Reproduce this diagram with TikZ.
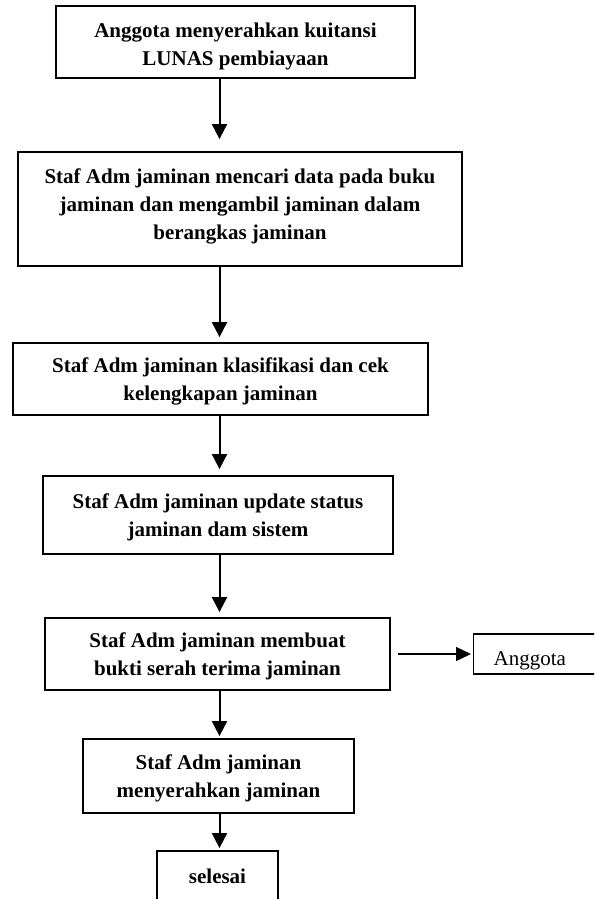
\documentclass[tikz,border=0pt]{standalone}
\usepackage{fontspec}
\setmainfont{Liberation Serif}
\usetikzlibrary{arrows.meta}
\tikzset{
  stepbox/.style={draw, line width=1.8pt, inner sep=0pt},
  steptext/.style={inner sep=0pt, align=center,
    font=\bfseries\fontsize{21}{28}\selectfont},
  endbox/.style={draw, line width=1.3pt, inner sep=0pt, inner xsep=20pt,
    text width=110pt, align=left, minimum width=150pt, minimum height=40pt,
    text height=27.4pt, text depth=4pt,
    font=\fontsize{21}{26.5}\selectfont},
  flow/.style={line width=2pt, -{Triangle[width=15pt,length=15pt]}},
  sideflow/.style={line width=1.3pt, -{Triangle[width=14pt,length=15pt]}},
}
\begin{document}
\begin{tikzpicture}[x=1pt,y=1pt]
\useasboundingbox (0,0) rectangle (594,-899);
\clip (0,0) rectangle (594,-899);
\coordinate (ax) at (219.5,0);

% process boxes
\node[stepbox, minimum width=359pt, minimum height=72pt] (b1) at (235.5,-42) {};
\node[stepbox, minimum width=444pt, minimum height=114pt] (b2) at (240,-209) {};
\node[stepbox, minimum width=415pt, minimum height=72pt] (b3) at (220.5,-379) {};
\node[stepbox, minimum width=350pt, minimum height=78pt] (b4) at (218,-515) {};
\node[stepbox, minimum width=345pt, minimum height=72pt] (b5) at (217.5,-654) {};
\node[stepbox, minimum width=271pt, minimum height=74pt] (b6) at (218.5,-776) {};
\node[stepbox, minimum width=121pt, minimum height=51pt] (b7) at (217.5,-876.5) {};
\node[endbox, anchor=west] (ang) at (473,-654) {Anggota};

% box labels
\node[steptext] (t1) at ([yshift=-4pt]b1.center)
  {Anggota menyerahkan kuitansi\\LUNAS pembiayaan};
\node[steptext] (t2) at ([yshift=3pt]b2.center)
  {Staf Adm jaminan mencari data pada buku\\jaminan dan mengambil jaminan dalam\\berangkas jaminan};
\node[steptext] (t3) at ([yshift=-2.5pt]b3.center)
  {Staf Adm jaminan klasifikasi dan cek\\kelengkapan jaminan};
\node[steptext] (t4) at ([yshift=-2.5pt]b4.center)
  {Staf Adm jaminan update status\\jaminan dam sistem};
\node[steptext] (t5) at ([yshift=-2.5pt]b5.center)
  {Staf Adm jaminan membuat\\bukti serah terima jaminan};
\node[steptext] (t6) at ([yshift=-2.5pt]b6.center)
  {Staf Adm jaminan\\menyerahkan jaminan};
\node[steptext] (t7) at (b7.center) {selesai};

% connectors
\draw[flow, shorten >=12pt] (b1.south -| ax) -- (b2.north -| ax);
\draw[flow, shorten >=5pt] (b2.south -| ax) -- (b3.north -| ax);
\draw[flow, shorten >=6pt] (b3.south -| ax) -- (b4.north -| ax);
\draw[flow, shorten >=5pt] (b4.south -| ax) -- (b5.north -| ax);
\draw[flow, shorten >=2pt] (b5.south -| ax) -- (b6.north -| ax);
\draw[flow, shorten >=2pt] (b6.south -| ax) -- (b7.north -| ax);
\draw[sideflow, shorten <=7pt, shorten >=2pt] (b5.east) -- (b5.east -| ang.west);
\end{tikzpicture}
\end{document}
